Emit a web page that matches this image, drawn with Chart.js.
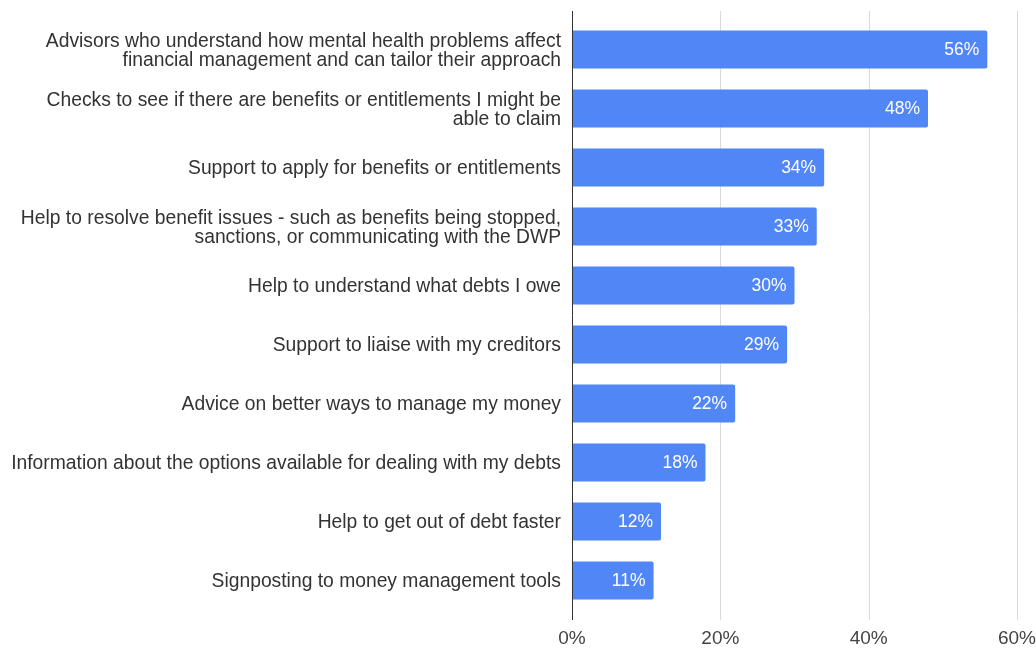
<!DOCTYPE html>
<html>
<head>
<meta charset="utf-8">
<script src="https://cdn.jsdelivr.net/npm/chart.js@4/dist/chart.umd.min.js"></script>
<style>
  html, body { margin: 0; padding: 0; background: #fff; }
  #wrap { width: 1036px; height: 650px; }
</style>
</head>
<body>
<div id="wrap"><canvas id="chart"></canvas></div>
<script>
const categories = [
  ["Advisors who understand how mental health problems affect", "financial management and can tailor their approach"],
  ["Checks to see if there are benefits or entitlements I might be", "able to claim"],
  "Support to apply for benefits or entitlements",
  ["Help to resolve benefit issues - such as benefits being stopped,", "sanctions, or communicating with the DWP"],
  "Help to understand what debts I owe",
  "Support to liaise with my creditors",
  "Advice on better ways to manage my money",
  "Information about the options available for dealing with my debts",
  "Help to get out of debt faster",
  "Signposting to money management tools"
];
const values = [56, 48, 34, 33, 30, 29, 22, 18, 12, 11];
const xTicks = [0, 20, 40, 60];

const FONT = "'Liberation Sans', Arial, sans-serif";

// grid lines + axis line, extended a little past the bars like the original
const gridPlugin = {
  id: "grid",
  beforeDatasetsDraw(chart) {
    const { ctx, chartArea, scales } = chart;
    const top = chartArea.top - 9, bottom = chartArea.bottom + 10;
    ctx.save();
    ctx.strokeStyle = "#dadada";
    ctx.lineWidth = 1;
    xTicks.slice(1).forEach(v => {
      const x = Math.round(scales.x.getPixelForValue(v)) + 0.5;
      ctx.beginPath();
      ctx.moveTo(x, top);
      ctx.lineTo(x, bottom);
      ctx.stroke();
    });
    ctx.restore();
  },
  afterDatasetsDraw(chart) {
    const { ctx, chartArea, scales } = chart;
    const x = Math.round(scales.x.getPixelForValue(0)) + 0.5;
    ctx.save();
    ctx.strokeStyle = "#333";
    ctx.lineWidth = 1;
    ctx.beginPath();
    ctx.moveTo(x, chartArea.top - 9);
    ctx.lineTo(x, chartArea.bottom + 10);
    ctx.stroke();
    ctx.restore();
  }
};

const valueLabels = {
  id: "valueLabels",
  afterDatasetsDraw(chart) {
    const { ctx } = chart;
    const meta = chart.getDatasetMeta(0);
    ctx.save();
    ctx.font = "17.5px " + FONT;
    ctx.fillStyle = "#fff";
    ctx.textAlign = "right";
    ctx.textBaseline = "middle";
    meta.data.forEach((bar, i) => {
      ctx.fillText(values[i] + "%", bar.x - 8, bar.y + 1);
    });
    ctx.restore();
  }
};

new Chart(document.getElementById("chart"), {
  type: "bar",
  data: {
    labels: categories,
    datasets: [{
      data: values,
      backgroundColor: "#5086f5",
      borderRadius: 2,
      borderSkipped: "start",
      barPercentage: 0.8,
      categoryPercentage: 0.805
    }]
  },
  options: {
    indexAxis: "y",
    responsive: true,
    maintainAspectRatio: false,
    animation: false,
    layout: { padding: { top: 20, right: 19, bottom: 0, left: 0 } },
    plugins: {
      legend: { display: false },
      tooltip: { enabled: false }
    },
    scales: {
      x: {
        min: 0,
        max: 60,
        afterBuildTicks(scale) {
          scale.ticks = xTicks.map(v => ({ value: v }));
        },
        afterFit(scale) {
          scale.height = 40;
          scale.paddingLeft = 0;
          scale.paddingRight = 0;
        },
        grid: { display: false, drawTicks: false },
        border: { display: false },
        ticks: {
          padding: 17,
          color: "#444",
          font: { family: FONT, size: 19 },
          callback: v => v + "%"
        }
      },
      y: {
        afterFit(scale) {
          scale.width = 572;
          scale.paddingTop = 0;
          scale.paddingBottom = 0;
        },
        grid: { display: false, drawTicks: false },
        border: { display: false },
        ticks: {
          padding: 11,
          labelOffset: 1.5,
          color: "#333",
          font: { family: FONT, size: 19.3, lineHeight: 1.0 }
        }
      }
    }
  },
  plugins: [gridPlugin, valueLabels]
});
</script>
</body>
</html>
